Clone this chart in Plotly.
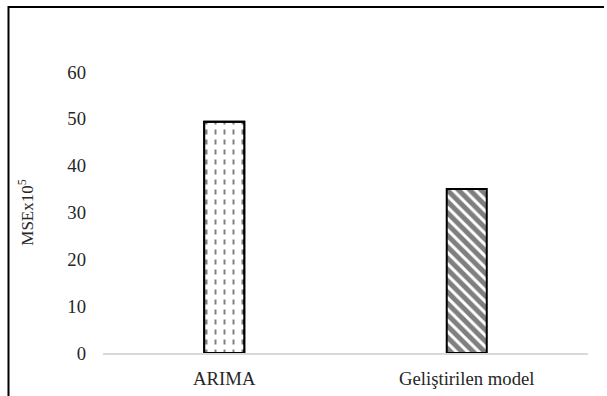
import plotly.graph_objects as go

# Model error comparison
models = ["ARIMA", "Geliştirilen model"]
mse = [49.4, 35.0]
y_ticks = [0, 10, 20, 30, 40, 50, 60]

W, H = 607, 396
L, R, T, B = 103, 19, 72, 43
SERIF = "Liberation Serif"

fig = go.Figure()

# ARIMA: vertical hatch, broken into dashes by a white horizontal-stripe overlay
fig.add_trace(go.Bar(
    x=models[:1], y=mse[:1], width=0.165,
    marker=dict(color="white", line=dict(color="black", width=2),
                pattern=dict(shape="|", fgcolor="black", bgcolor="white",
                             size=9, solidity=0.22)),
    showlegend=False, hoverinfo="skip"))
fig.add_trace(go.Bar(
    x=models[:1], y=mse[:1], width=0.165,
    marker=dict(color="rgba(255,255,255,0)", line=dict(color="black", width=2),
                pattern=dict(shape="-", fgcolor="white", fgopacity=1,
                             fillmode="overlay", size=10, solidity=0.5)),
    showlegend=False))

# Improved model: diagonal hatch
fig.add_trace(go.Bar(
    x=models[1:], y=mse[1:], width=0.165,
    marker=dict(color="white", line=dict(color="black", width=2),
                pattern=dict(shape="\\", fgcolor="black", bgcolor="white",
                             size=8, solidity=0.62)),
    showlegend=False))

pw, ph = W - L - R, H - T - B
fx = lambda px: (px - L) / pw
fy = lambda py: 1 - (py - T) / ph

fig.update_layout(
    width=W, height=H, barmode="overlay",
    margin=dict(l=L, r=R, t=T, b=B, autoexpand=False),
    paper_bgcolor="white", plot_bgcolor="white",
    font=dict(family=SERIF, size=18.7, color="#262626"),
    xaxis=dict(showgrid=False, showline=True, linecolor="#d9d9d9", linewidth=2,
               ticks="", ticklabelstandoff=8, fixedrange=True, automargin=False),
    yaxis=dict(range=[0, 60], tickvals=y_ticks, showgrid=False, zeroline=False,
               showline=False, ticks="", ticklabelstandoff=16, automargin=False,
               title=dict(text="MSEx10<sup>5</sup>", standoff=29,
                          font=dict(size=17, family=SERIF))),
    shapes=[
        dict(type="line", xref="paper", yref="paper", x0=fx(8), x1=fx(604),
             y0=fy(7), y1=fy(7), line=dict(color="black", width=2)),
        dict(type="line", xref="paper", yref="paper", x0=fx(8.5), x1=fx(8.5),
             y0=fy(6), y1=fy(397), line=dict(color="black", width=2)),
    ],
)

fig.write_html("out.html")
